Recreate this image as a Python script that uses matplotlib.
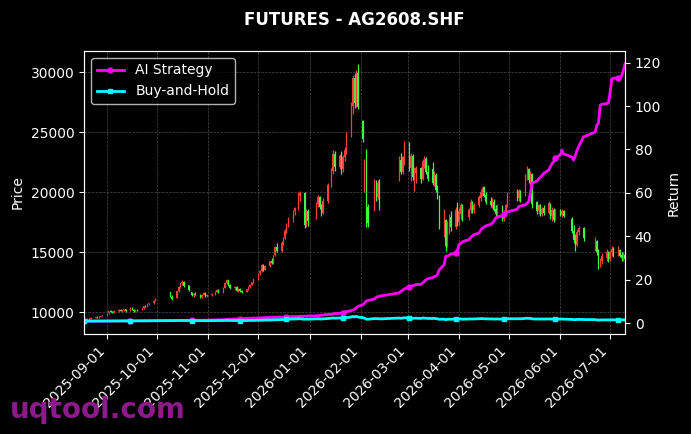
"""
AG2608 futures: daily candles with AI strategy vs buy-and-hold return curves.
"""

import numpy as np
import pandas as pd
import matplotlib
matplotlib.use("Agg")
import matplotlib.pyplot as plt
import matplotlib.dates as mdates

# ---------------------- Data ---------------------- #

TITLE = "FUTURES - AG2608.SHF"
START_DAY, END_DAY = "2025-08-18", "2026-07-10"

# exchange holidays + weekdays missing from the feed
no_trade_days = [
    "2025-10-01", "2025-10-02", "2025-10-03", "2025-10-06", "2025-10-07", "2025-10-08",
    "2025-10-21", "2025-11-04", "2025-12-24", "2026-01-01", "2026-01-02", "2026-01-13",
    "2026-02-06", "2026-02-13", "2026-02-16", "2026-02-17", "2026-02-18", "2026-02-19",
    "2026-02-20", "2026-02-23", "2026-04-06", "2026-05-01", "2026-05-04", "2026-05-05",
    "2026-06-04", "2026-06-05", "2026-06-16", "2026-06-17", "2026-06-18", "2026-06-19",
]

# one line per trading week
open_px = [
    9300, 9380, 9340, 9450, 9420,
    9530, 9590, 9560, 9620, 9680,
    9760, 9920, 10080, 10020, 9960,
    10100, 10200, 10120, 10180, 10250,
    10100, 10350, 10200, 10100, 10220,
    10180, 10380, 10500, 10450, 10650,
    10750, 10950,
    11650, 11300,
    11200, 11750, 12100, 12400, 12550,
    12250, 11650, 11400, 11550,
    11450, 11250, 11450, 11600, 11350,
    11400, 11550, 11700, 11850,
    11650, 12050, 12450, 12650, 12300,
    12000, 12100, 11800, 11950, 11750,
    11700, 11900, 12100, 12300, 12500,
    12750, 13250, 13400, 13900, 13550,
    13850, 14250, 14100, 14750, 15400,
    15100, 15800, 16200, 16800, 17300,
    17700, 18400, 18700, 19700,
    19900, 17300, 18400,
    17800, 19000, 19600, 18800, 18300,
    19300, 20600, 21800, 23200,
    22100, 23000, 21900, 22900, 23500,
    24800, 27200, 29500, 27400, 29900,
    25900, 20300, 23300, 18800,
    18600, 20700, 19600, 20900,
    21000, 22700, 21700, 22600,
    24000, 22000, 23000, 21200, 21600,
    22000, 21100, 22400, 22800, 21700,
    21900, 20800, 21400, 20300, 19700,
    17000, 17700, 15600, 16800, 17900,
    17100, 18600, 17500, 18200, 18800,
    17900, 18500, 19200, 18500,
    18900, 19500, 19900, 20400, 19800,
    19300, 18900, 19200, 18600, 18200,
    18700, 17800, 18300, 18900,
    20100, 19500, 20100,
    19800, 21200, 21900, 21000, 21500,
    19200, 18400, 18900, 18200, 18700,
    18300, 19000, 18000, 18500, 17800,
    18500, 18100, 18400,
    17800, 16800, 16000, 15600, 16700,
    17000,
    15300, 15900, 15100, 13800, 14300,
    14500, 15000, 14400, 15000, 15300,
    14800, 15200, 14800, 14500, 14800,
]
high_px = [
    9420, 9450, 9480, 9500, 9560,
    9620, 9650, 9640, 9700, 9800,
    9950, 10120, 10200, 10100, 10150,
    10250, 10260, 10220, 10300, 10300,
    10400, 10420, 10280, 10250, 10300,
    10400, 10550, 10600, 10700, 10800,
    11000, 11150,
    11700, 11400,
    11800, 12200, 12450, 12650, 12600,
    12300, 11700, 11600, 11650,
    11550, 11500, 11650, 11650, 11500,
    11600, 11750, 11900, 11900,
    12100, 12500, 12750, 12700, 12350,
    12200, 12150, 12000, 12050, 11850,
    11950, 12150, 12350, 12550, 12800,
    13300, 13500, 14000, 14000, 13900,
    14300, 14500, 14800, 15500, 15800,
    15900, 16300, 16900, 17400, 17900,
    18500, 18800, 20000, 20100,
    20000, 18600, 18600,
    19200, 19800, 19700, 19000, 19500,
    20800, 22000, 23500, 23400,
    23200, 23400, 23100, 23750, 25000,
    27500, 29800, 29900, 30200, 30700,
    26000, 22750, 23600, 19000,
    21100, 21000, 21000, 21100,
    23000, 23300, 23000, 24250,
    24200, 23300, 23200, 22100, 22200,
    22100, 22800, 23000, 22900, 22300,
    22500, 21800, 21600, 20600, 19800,
    18600, 17800, 17600, 18200, 18400,
    18800, 19200, 18700, 19100, 19000,
    18700, 19400, 19300, 19100,
    19800, 20250, 20400, 20500, 20000,
    19600, 19500, 19400, 18900, 19000,
    18900, 18500, 19000, 20000,
    20250, 20300, 20200,
    21500, 22200, 22000, 21800, 21600,
    19300, 19000, 19000, 18800, 18900,
    19300, 19100, 18800, 18700, 18600,
    18600, 18600, 18500,
    17900, 17300, 16500, 16900, 17200,
    17100,
    16250, 16000, 15250, 14500, 14900,
    15250, 15100, 15200, 15500, 15400,
    15500, 15300, 15000, 15000, 14900,
]
low_px = [
    9250, 9300, 9320, 9380, 9400,
    9480, 9520, 9500, 9580, 9650,
    9720, 9880, 9980, 9900, 9920,
    10050, 10080, 10000, 10100, 10050,
    10080, 10150, 10050, 10000, 10120,
    10150, 10300, 10400, 10420, 10600,
    10700, 10900,
    11250, 11000,
    11150, 11700, 12000, 12300, 12100,
    11750, 11350, 11300, 11400,
    11200, 11150, 11400, 11300, 11250,
    11350, 11450, 11650, 11600,
    11600, 12000, 12350, 12200, 11900,
    11850, 11750, 11700, 11700, 11600,
    11650, 11850, 12050, 12250, 12450,
    12700, 13100, 13350, 13450, 13500,
    13800, 14000, 14050, 14700, 15000,
    15050, 15600, 16100, 16600, 17100,
    17500, 18100, 18500, 19300,
    17000, 17100, 17200,
    17750, 18800, 18600, 18000, 18200,
    19100, 20400, 21500, 21800,
    21900, 21500, 21700, 22600, 23200,
    24600, 26500, 27000, 27100, 26900,
    24200, 20000, 17100, 17100,
    18400, 19300, 19400, 18500,
    20900, 21500, 21500, 22300,
    21800, 20900, 21000, 20100, 20800,
    20800, 21000, 22000, 21500, 20900,
    20600, 20500, 20000, 19400, 16900,
    16300, 15100, 15400, 16500, 16800,
    16900, 17200, 17300, 17800, 17600,
    17700, 18300, 18300, 18300,
    18800, 19300, 19700, 19600, 19000,
    18800, 18700, 18400, 18000, 18000,
    17600, 17600, 18100, 18800,
    19300, 19300, 19200,
    19700, 21000, 20800, 20500, 18700,
    18200, 18200, 18000, 18000, 18100,
    18200, 17800, 17600, 17500, 17700,
    18000, 17900, 17900,
    16600, 15800, 15100, 15500, 16400,
    15900,
    15100, 14800, 13600, 13750, 14000,
    14300, 14200, 14300, 14700, 14600,
    14700, 14600, 14300, 14300, 14200,
]
close_px = [
    9380, 9340, 9450, 9420, 9530,
    9590, 9560, 9620, 9680, 9760,
    9920, 10080, 10020, 9960, 10100,
    10200, 10120, 10180, 10250, 10100,
    10350, 10200, 10100, 10220, 10180,
    10380, 10500, 10450, 10650, 10750,
    10950, 11100,
    11300, 11100,
    11750, 12100, 12400, 12550, 12200,
    11850, 11400, 11550, 11450,
    11250, 11450, 11600, 11350, 11400,
    11550, 11700, 11850, 11650,
    12050, 12450, 12650, 12300, 12000,
    12100, 11800, 11950, 11750, 11700,
    11900, 12100, 12300, 12500, 12750,
    13250, 13400, 13900, 13550, 13850,
    14250, 14100, 14750, 15400, 15100,
    15800, 16200, 16800, 17300, 17700,
    18400, 18700, 19700, 19900,
    17300, 18400, 17600,
    19000, 19600, 18800, 18300, 19300,
    20600, 21800, 23200, 22100,
    23000, 21900, 22900, 23500, 24800,
    27200, 29500, 27400, 29900, 27100,
    24400, 22400, 18200, 17400,
    20700, 19600, 20800, 19000,
    22700, 21700, 22900, 24000,
    22100, 23000, 21300, 21900, 22000,
    21100, 22600, 22800, 21700, 21100,
    20800, 21600, 20200, 19600, 17300,
    18200, 15500, 17300, 17900, 17100,
    18500, 17500, 18400, 18900, 17800,
    18500, 19200, 18500, 18900,
    19600, 20000, 20300, 19700, 19200,
    18900, 19300, 18500, 18200, 18800,
    17800, 18300, 18900, 19700,
    19500, 20100, 19400,
    21200, 21900, 21000, 21600, 19000,
    18400, 18900, 18200, 18600, 18300,
    19100, 18000, 18500, 17700, 18400,
    18100, 18400, 18000,
    16800, 16000, 15400, 16700, 17000,
    16200,
    15900, 15000, 13800, 14300, 14700,
    15000, 14400, 15000, 15300, 14800,
    15200, 14700, 14500, 14800, 14400,
]
# AI strategy equity curve (multiple of starting capital)
ai_strategy = [
    1.00, 1.00, 1.01, 1.01, 1.02,
    1.02, 1.03, 1.03, 1.04, 1.05,
    1.06, 1.07, 1.07, 1.08, 1.09,
    1.09, 1.10, 1.10, 1.11, 1.12,
    1.12, 1.13, 1.14, 1.14, 1.15,
    1.16, 1.17, 1.17, 1.18, 1.19,
    1.20, 1.21,
    1.22, 1.23,
    1.25, 1.27, 1.29, 1.31, 1.32,
    1.33, 1.34, 1.36, 1.37,
    1.38, 1.40, 1.42, 1.43, 1.45,
    1.48, 1.52, 1.56, 1.60,
    1.66, 1.74, 1.82, 1.88, 1.92,
    1.97, 2.02, 2.07, 2.12, 2.18,
    2.22, 2.27, 2.31, 2.35, 2.40,
    2.44, 2.48, 2.52, 2.56, 2.60,
    2.64, 2.68, 2.72, 2.76, 2.80,
    2.84, 2.88, 2.92, 2.96, 3.00,
    3.05, 3.10, 3.15, 3.20,
    3.25, 3.30, 3.36,
    3.45, 3.55, 3.65, 3.75, 3.85,
    4.00, 4.15, 4.30, 4.45,
    4.60, 4.75, 4.90, 5.10, 5.40,
    5.80, 6.20, 6.40, 7.00, 7.80,
    8.50, 9.30, 10.20, 10.50,
    11.20, 11.90, 12.20, 12.50,
    14.00, 14.80, 15.20, 15.80,
    16.80, 17.00, 17.30, 17.50, 17.80,
    17.90, 18.50, 19.20, 20.00, 20.50,
    21.00, 21.40, 21.70, 22.50, 24.50,
    27.00, 30.80, 31.00, 31.30, 31.80,
    32.40, 33.50, 36.20, 36.80, 37.50,
    38.50, 39.50, 40.20, 40.80,
    41.50, 42.80, 43.80, 44.20, 44.80,
    45.50, 46.10, 47.00, 48.40, 48.90,
    49.50, 50.20, 50.70, 51.20,
    52.50, 53.70, 54.00,
    54.50, 55.30, 56.00, 60.00, 64.40,
    65.50, 66.50, 67.20, 68.00, 69.00,
    70.50, 72.00, 73.50, 74.40, 75.90,
    77.50, 79.70, 78.00,
    76.50, 75.10, 77.00, 79.50, 81.20,
    85.80,
    88.00, 91.20, 92.00, 100.30, 100.80,
    101.10, 101.50, 106.00, 112.50, 112.80,
    113.00, 112.60, 114.00, 116.50, 119.40,
]

UP_COLOR = "#ff3d3d"     # red = close above open
DOWN_COLOR = "#3dff3d"
AI_COLOR = "#ff00ff"
BH_COLOR = "#00ffff"


# ---------------------- Functions ---------------------- #

def trading_days():
    days = pd.bdate_range(START_DAY, END_DAY)
    return days.drop(pd.to_datetime(no_trade_days))


def draw_candles(ax, days, o, h, l, c):
    up = c >= o
    colors = np.where(up, UP_COLOR, DOWN_COLOR)
    ax.vlines(days, l, h, colors=colors, linewidth=0.9)
    ax.bar(days, np.abs(c - o), bottom=np.minimum(o, c), width=0.7,
           color=colors, linewidth=0)


# --------------------------- Main --------------------------- #
def main():
    days = trading_days()
    o = np.array(open_px, dtype=float)
    h = np.array(high_px, dtype=float)
    l = np.array(low_px, dtype=float)
    c = np.array(close_px, dtype=float)
    ai = np.array(ai_strategy)
    assert len(days) == len(c) == len(o) == len(h) == len(l) == len(ai)

    buy_hold = c / c[0]

    plt.style.use("dark_background")
    fig, ax = plt.subplots(figsize=(6.91, 4.34), dpi=100)
    fig.subplots_adjust(left=0.1216, right=0.9045, top=0.8825, bottom=0.2304)

    draw_candles(ax, days, o, h, l, c)
    ax.set_ylabel("Price")
    ax.grid(True, linestyle="--", linewidth=0.5, color="#4a4a4a")
    ax.set_xlim(days[0], days[-1])
    ax.xaxis.set_major_locator(mdates.MonthLocator())
    ax.xaxis.set_major_formatter(mdates.DateFormatter("%Y-%m-%d"))
    plt.setp(ax.get_xticklabels(), rotation=45, ha="right")
    ax.set_title(TITLE, color="white", fontweight="bold", fontsize=12, pad=19)

    ax2 = ax.twinx()
    ax2.plot(days, ai, color=AI_COLOR, linewidth=2, marker="o", markersize=3.5,
             markevery=20, label="AI Strategy")
    ax2.plot(days, buy_hold, color=BH_COLOR, linewidth=2, marker="s", markersize=3.5,
             markevery=20, label="Buy-and-Hold")
    ax2.set_ylabel("Return")
    ax2.set_xlim(days[0], days[-1])
    ax2.legend(loc="upper left", facecolor="black", edgecolor="#dddddd",
               labelcolor="white", fontsize=10)

    fig.text(0.0145, 0.037, "uqtool.com", fontsize=20, fontweight="bold",
             color="#8c1a8c", va="baseline")

    fig.savefig("out.png", dpi=100, facecolor="black")


if __name__ == "__main__":
    main()
